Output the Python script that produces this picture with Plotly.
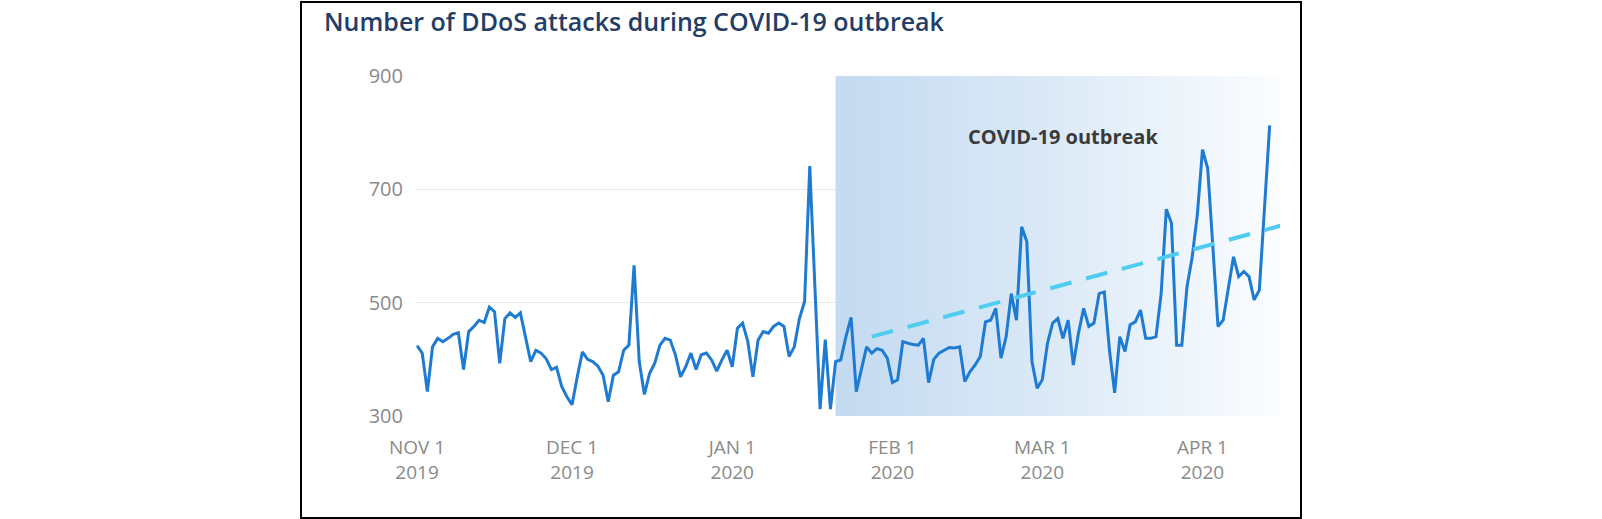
import pandas as pd
import plotly.graph_objects as go

# ---- data ----
start_date = "2019-11-01"
attacks = [
    424, 411, 343, 422, 437, 431, 437, 444, 447, 382,
    449, 458, 469, 465, 492, 484, 393, 472, 482, 474,
    482, 440, 396, 416, 411, 401, 382, 386, 352, 334,
    320, 369, 413, 400, 396, 388, 372, 325, 372, 378,
    416, 425, 566, 396, 338, 375, 393, 425, 437, 434,
    408, 369, 387, 411, 382, 408, 411, 399, 379, 399,
    416, 387, 455, 464, 432, 369, 434, 449, 446, 458,
    464, 458, 405, 422, 472, 502, 741, 527, 312, 435,
    312, 396, 399, 440, 474, 343, 384, 422, 411, 419,
    416, 402, 359, 364, 431, 428, 426, 425, 437, 359,
    400, 411, 416, 421, 420, 422, 361, 378, 390, 405,
    466, 469, 490, 402, 440, 516, 469, 634, 608, 396,
    349, 364, 428, 464, 472, 437, 469, 390, 446, 490,
    458, 464, 516, 519, 416, 341, 440, 414, 461, 466,
    487, 437, 437, 440, 516, 665, 640, 425, 425, 528,
    580, 655, 770, 737, 600, 458, 469, 525, 581, 546,
    555, 546, 505, 522, 660, 813,
]
dates = pd.date_range(start_date, periods=len(attacks), freq="D")

trend_dates = ["2020-01-28", "2020-04-17"]
trend_values = [440, 638]

outbreak_start = "2020-01-21"
outbreak_end = "2020-04-16"
outbreak_label = "COVID-19 outbreak"
outbreak_label_pos = ("2020-03-05", 794)

tick_dates = ["2019-11-01", "2019-12-01", "2020-01-01", "2020-02-01", "2020-03-01", "2020-04-01"]
tick_text = ["NOV 1<br>2019", "DEC 1<br>2019", "JAN 1<br>2020", "FEB 1<br>2020", "MAR 1<br>2020", "APR 1<br>2020"]
y_ticks = [300, 500, 700, 900]
y_range = [300, 900]
x_range = ["2019-10-31 19:12", "2020-04-16 00:00"]

title_text = "Number of DDoS attacks during COVID-19 outbreak"

# ---- figure ----
fig = go.Figure()

# gradient shaded outbreak period
fig.add_trace(go.Scatter(
    x=[outbreak_start, outbreak_end, outbreak_end, outbreak_start, outbreak_start],
    y=[y_range[0], y_range[0], y_range[1], y_range[1], y_range[0]],
    mode="lines", line=dict(width=0), fill="toself",
    fillgradient=dict(type="horizontal",
                      colorscale=[[0, "#c3daf1"], [0.5, "#dceaf7"], [1, "#fbfdff"]]),
    hoverinfo="skip", showlegend=False,
))

fig.add_trace(go.Scatter(
    x=dates, y=attacks, mode="lines",
    line=dict(color="#1f7bd2", width=3),
    showlegend=False,
))

fig.add_trace(go.Scatter(
    x=trend_dates, y=trend_values, mode="lines",
    line=dict(color="#4fcdf0", width=4, dash="22px,15px"),
    showlegend=False,
))

fig.add_annotation(
    x=outbreak_label_pos[0], y=outbreak_label_pos[1], text=outbreak_label,
    showarrow=False, xanchor="center", yanchor="middle",
    font=dict(family="Open Sans", size=20, color="#3a3a3a", weight=700),
)

# frame around the chart
W, H = 1602, 519
L, R, T, B = 416, 1280, 76, 416
pw, ph = R - L, B - T
fig.add_shape(
    type="rect", xref="paper", yref="paper",
    x0=(301 - L) / pw, x1=(1301 - L) / pw,
    y0=(B - 518) / ph, y1=(B - 2) / ph,
    line=dict(color="black", width=2), fillcolor="rgba(0,0,0,0)", layer="above",
)

fig.update_layout(
    width=W, height=H,
    margin=dict(l=L, r=W - R, t=T, b=H - B, pad=0),
    paper_bgcolor="white", plot_bgcolor="white",
    title=dict(
        text=title_text, xref="container", yref="container",
        x=324 / W, xanchor="left", y=1 - 22 / H, yanchor="middle",
        font=dict(family="Open Sans", size=25, color="#243d66", weight=600),
    ),
    showlegend=False,
)

fig.update_xaxes(
    type="date", range=x_range,
    tickvals=tick_dates, ticktext=tick_text,
    showgrid=False, zeroline=False, showline=False,
    ticks="", ticklabelstandoff=18,
    tickfont=dict(family="Open Sans", size=19, color="#8a8a8a"),
)
fig.update_yaxes(
    range=y_range, tickvals=y_ticks,
    showgrid=True, gridcolor="#e9e9e9", gridwidth=1,
    zeroline=False, showline=False,
    ticks="", ticklabelstandoff=12,
    tickfont=dict(family="Open Sans", size=20, color="#8a8a8a"),
)

fig.write_html("out.html", config={"displayModeBar": False},
               post_script="document.body.style.margin='0';")
